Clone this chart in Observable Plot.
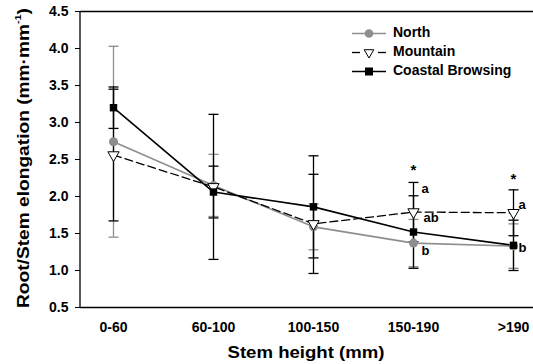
<!DOCTYPE html>
<html>
<head>
<meta charset="utf-8">
<script src="https://cdn.jsdelivr.net/npm/d3@7"></script>
<script src="https://cdn.jsdelivr.net/npm/@observablehq/plot@0.6"></script>
<style>
  html, body { margin: 0; padding: 0; background: #fff; overflow: hidden; }
  #wrap { position: relative; width: 533px; height: 364px; }
  #legend { position: absolute; left: 0; top: 0; }
</style>
</head>
<body>
<div id="wrap"></div>
<script>
const categories = ["0-60", "60-100", "100-150", "150-190", ">190"];
const seriesNames = ["North", "Mountain", "Coastal Browsing"];
const northMean = [2.74, 2.15, 1.59, 1.37, 1.33];
const northSE = [1.29, 0.42, 0.31, 0.32, 0.30];
const mountainMean = [2.56, 2.13, 1.63, 1.79, 1.78];
const mountainSE = [0.89, 0.98, 0.67, 0.40, 0.31];
const coastalMean = [3.20, 2.06, 1.86, 1.52, 1.34];
const coastalSE = [0.28, 0.35, 0.69, 0.49, 0.34];
const yTicks = [0.5, 1.0, 1.5, 2.0, 2.5, 3.0, 3.5, 4.0, 4.5];
// significance annotations
const starCats = ["150-190", ">190"];
const starY = [2.36, 2.24];
const letterCats = ["150-190", "150-190", "150-190", ">190", ">190"];
const letterText = ["a", "ab", "b", "a", "b"];
const letterY = [2.10, 1.71, 1.27, 1.89, 1.30];
const letterDx = [8, 10, 8, 5, 5];

const GRAY = "#8e8e8e";
const FONT = "Liberation Sans, Arial, sans-serif";

function rows(means, ses, name) {
  return categories.map((c, i) => ({cat: c, v: means[i], lo: means[i] - ses[i], hi: means[i] + ses[i], s: name}));
}
const north = rows(northMean, northSE, seriesNames[0]);
const mountain = rows(mountainMean, mountainSE, seriesNames[1]);
const coastal = rows(coastalMean, coastalSE, seriesNames[2]);
const stars = starCats.map((c, i) => ({cat: c, y: starY[i]}));
const letters = letterCats.map((c, i) => ({cat: c, y: letterY[i], t: letterText[i], dx: letterDx[i]}));

const capSymbol = {
  draw(ctx, size) {
    const w = 5;
    ctx.moveTo(-w, 0);
    ctx.lineTo(w, 0);
  }
};

function errorMarks(data, color) {
  return [
    Plot.ruleX(data, {x: "cat", y1: "lo", y2: "hi", stroke: color, strokeWidth: 1.3}),
    Plot.dot(data, {x: "cat", y: "hi", symbol: capSymbol, stroke: color, strokeWidth: 1.3, r: 5}),
    Plot.dot(data, {x: "cat", y: "lo", symbol: capSymbol, stroke: color, strokeWidth: 1.3, r: 5})
  ];
}

const svg = Plot.plot({
  width: 533,
  height: 364,
  marginLeft: 80,
  marginRight: 0,
  marginTop: 11,
  marginBottom: 57,
  style: {fontFamily: FONT, fontWeight: "bold", fontSize: "14px", background: "white", overflow: "visible"},
  x: {type: "point", domain: categories, range: [111, 514], padding: 0, label: null},
  y: {domain: [0.5, 4.5], label: null},
  marks: [
    ...errorMarks(north, GRAY),
    ...errorMarks(mountain, "black"),
    ...errorMarks(coastal, "black"),
    Plot.line(north, {x: "cat", y: "v", stroke: GRAY, strokeWidth: 1.6}),
    Plot.line(mountain, {x: "cat", y: "v", stroke: "black", strokeWidth: 1.3, strokeDasharray: "8,4"}),
    Plot.line(coastal, {x: "cat", y: "v", stroke: "black", strokeWidth: 1.6}),
    Plot.dot(north, {x: "cat", y: "v", fill: GRAY, r: 4.5, symbol: "circle"}),
    Plot.dot(mountain, {x: "cat", y: "v", fill: "white", stroke: "black", strokeWidth: 1, r: 4.2, symbol: "triangle", rotate: 180}),
    Plot.dot(coastal, {x: "cat", y: "v", fill: "black", r: 4.2, symbol: "square"}),
    Plot.text(stars, {x: "cat", y: "y", text: () => "*", fontSize: 15, fontWeight: "bold", fill: "black"}),
    ...letters.map(l => Plot.text([l], {x: "cat", y: "y", text: "t", dx: l.dx, textAnchor: "start", fontSize: 13, fontWeight: "bold", fill: "black"})),
    Plot.ruleY([0.5, 4.5], {stroke: "black", strokeWidth: 1.3}),
    Plot.axisY({ticks: yTicks, tickFormat: d => d.toFixed(1), tickSize: 5, tickPadding: 7, fontSize: 14, fontWeight: "bold", label: null}),
    Plot.axisX({tickSize: 0, tickPadding: 15, fontSize: 14, fontWeight: "bold", label: null})
  ]
});

const g = d3.select(svg);
// left frame line
g.append("line").attr("x1", 80).attr("x2", 80).attr("y1", 11).attr("y2", 307)
  .attr("stroke", "black").attr("stroke-width", 1.3);

// axis titles
const yl = g.append("text")
  .attr("transform", "translate(25,158) rotate(-90)")
  .attr("text-anchor", "middle")
  .attr("dominant-baseline", "middle")
  .attr("textLength", 300)
  .attr("lengthAdjust", "spacingAndGlyphs")
  .style("font", `bold 16px ${FONT}`);
yl.append("tspan").text("Root/Stem elongation (mm·mm");
yl.append("tspan").attr("font-size", "9px").attr("dy", -6).text("-1");
yl.append("tspan").attr("dy", 6).text(")");

g.append("text")
  .attr("x", 306).attr("y", 358)
  .attr("text-anchor", "middle")
  .attr("textLength", 157)
  .attr("lengthAdjust", "spacingAndGlyphs")
  .style("font", `bold 17px ${FONT}`)
  .text("Stem height (mm)");

document.getElementById("wrap").appendChild(svg);

// legend overlay
const leg = d3.select("#wrap").append("svg").attr("id", "legend").attr("width", 533).attr("height", 100);
const legStyles = [
  {stroke: GRAY, sym: "circle"},
  {stroke: "black", sym: "triangle"},
  {stroke: "black", sym: "square"}
];
seriesNames.forEach((name, i) => {
  const y = 33.5 + i * 19;
  const st = legStyles[i];
  const gi = leg.append("g");
  if (st.sym === "triangle") {
    gi.append("line").attr("x1", 352).attr("x2", 360).attr("y1", y).attr("y2", y).attr("stroke", "black").attr("stroke-width", 1.3);
    gi.append("line").attr("x1", 378).attr("x2", 386).attr("y1", y).attr("y2", y).attr("stroke", "black").attr("stroke-width", 1.3);
    gi.append("path").attr("d", d3.symbol(d3.symbolTriangle, 40)()).attr("transform", `translate(369,${y}) rotate(180)`)
      .attr("fill", "white").attr("stroke", "black").attr("stroke-width", 1);
  } else {
    gi.append("line").attr("x1", 352).attr("x2", 386).attr("y1", y).attr("y2", y).attr("stroke", st.stroke).attr("stroke-width", 1.6);
    if (st.sym === "circle") gi.append("circle").attr("cx", 369).attr("cy", y).attr("r", 4.3).attr("fill", GRAY);
    else gi.append("rect").attr("x", 365).attr("y", y - 4).attr("width", 8).attr("height", 8).attr("fill", "black");
  }
  gi.append("text").attr("x", 393).attr("y", y).attr("dominant-baseline", "middle")
    .style("font", `bold 14px ${FONT}`).attr("fill", "black").text(name);
});
</script>
</body>
</html>
